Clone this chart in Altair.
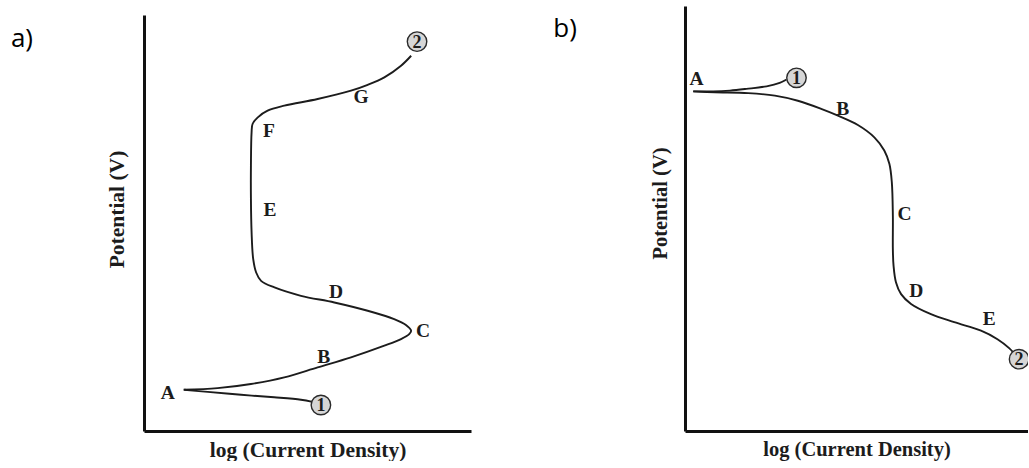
import altair as alt
import pandas as pd

# ---------------- Panel a (anodic polarization, schematic units 0-100) ----------------
a_main_x = [12.1, 22.5, 32.7, 42.9, 53.1, 63.3, 73.5, 78.6, 81.1, 81.7, 80.1, 76.5, 68.4, 58.2,
            48.0, 39.9, 35.8, 34.3, 33.4, 32.9, 32.7, 32.7, 32.9, 33.2, 34.8, 37.8, 42.9, 53.1,
            63.3, 68.4, 73.5, 78.6, 81.7]
a_main_y = [9.9, 10.3, 11.3, 12.9, 15.3, 17.7, 20.5, 22.1, 23.3, 24.1, 25.5, 26.9, 28.9, 30.9,
            32.5, 34.5, 36.1, 38.1, 41.3, 47.8, 55.8, 63.8, 71.8, 73.8, 75.4, 77.0, 78.2, 79.8,
            81.8, 83.2, 85.0, 87.8, 90.2]
a_branch_x = [12.3, 19.5, 29.7, 39.8, 48.0, 51.5]
a_branch_y = [9.9, 9.4, 8.7, 8.1, 7.5, 7.0]
a_label_text = ["A", "B", "C", "D", "E", "F", "G"]
a_label_x = [7.3, 55.0, 85.3, 58.7, 38.5, 38.2, 66.4]
a_label_y = [9.1, 17.8, 24.0, 33.4, 53.1, 72.1, 80.3]
a_node_text = ["1", "2"]
a_node_x = [54.1, 83.5]
a_node_y = [6.25, 93.6]
a_tag = ["a)"]
a_tag_x = [-40.7]
a_tag_y = [94.2]

# ---------------- Panel b (cathodic polarization) ----------------
b_main_x = [2.4, 8.7, 18.4, 26.2, 32.9, 39.7, 44.6, 50.4, 55.2, 58.1, 59.6, 60.3, 60.6, 60.6,
            60.8, 61.5, 63.0, 65.9, 71.7, 78.5, 86.3, 91.1, 94.5, 97.4]
b_main_y = [79.9, 79.7, 79.5, 78.9, 77.7, 75.8, 74.2, 72.0, 69.1, 66.0, 62.8, 58.5, 50.7, 42.8,
            38.9, 35.0, 32.2, 29.9, 27.5, 25.6, 23.6, 21.6, 19.5, 16.9]
b_branch_x = [2.4, 8.2, 13.1, 17.9, 23.8, 27.6, 29.6]
b_branch_y = [79.9, 79.9, 80.1, 80.5, 81.1, 81.9, 82.7]
b_label_text = ["A", "B", "C", "D", "E"]
b_label_x = [3.4, 46.0, 64.0, 67.4, 88.7]
b_label_y = [82.8, 75.8, 51.1, 33.0, 26.4]
b_node_text = ["1", "2"]
b_node_x = [32.5, 97.4]
b_node_y = [83.1, 16.9]
b_tag = ["b)"]
b_tag_x = [-38.4]
b_tag_y = [94.5]

X_TITLE = "log (Current Density)"
Y_TITLE = "Potential (V)"
SERIF = "Liberation Serif"
INK = "#1c1c1c"


def line_frame(mx, my, bx, by):
    rows = []
    for i, (x, y) in enumerate(zip(mx, my)):
        rows.append({"x": x, "y": y, "seg": "main", "ord": i})
    for i, (x, y) in enumerate(zip(bx, by)):
        rows.append({"x": x, "y": y, "seg": "branch", "ord": i})
    return pd.DataFrame(rows)


def panel(mx, my, bx, by, lt, lx, ly, nt, nx, ny, tag, tx, ty,
          width, height, yrange, tsize, ytitle_y, xpad, ypad, clip):
    xs = alt.X("x:Q", scale=alt.Scale(domain=[0, 100], nice=False, zero=False),
               axis=alt.Axis(title=X_TITLE, ticks=False, labels=False, grid=False,
                             domainColor="#111111", domainWidth=3,
                             titleFont=SERIF, titleFontWeight="bold", titleFontSize=tsize,
                             titleColor=INK, titlePadding=xpad))
    yscale = alt.Scale(domain=[0, 100], nice=False, zero=False, range=yrange) if yrange else \
        alt.Scale(domain=[0, 100], nice=False, zero=False)
    ys = alt.Y("y:Q", scale=yscale,
               axis=alt.Axis(title=Y_TITLE, ticks=False, labels=False, grid=False,
                             domainColor="#111111", domainWidth=3,
                             titleFont=SERIF, titleFontWeight="bold", titleFontSize=tsize,
                             titleColor=INK, titlePadding=ypad, titleY=ytitle_y))

    lines = alt.Chart(line_frame(mx, my, bx, by)).mark_line(
        interpolate="catmull-rom", strokeWidth=1.9, color=INK
    ).encode(x=xs, y=ys, detail="seg:N", order="ord:Q")

    labels = alt.Chart(pd.DataFrame({"x": lx, "y": ly, "t": lt})).mark_text(
        font=SERIF, fontWeight="bold", fontSize=19.5, color=INK, align="center", baseline="middle"
    ).encode(x=xs, y=ys, text="t:N")

    nodes_df = pd.DataFrame({"x": nx, "y": ny, "t": nt})
    nodes = alt.Chart(nodes_df).mark_circle(
        size=380, color="#d6d6d6", stroke="#2a2a2a", strokeWidth=1.4, opacity=1, clip=clip
    ).encode(x=xs, y=ys)
    node_txt = alt.Chart(nodes_df).mark_text(
        font=SERIF, fontWeight="bold", fontSize=18, color=INK, align="center",
        baseline="middle", dy=1, clip=clip
    ).encode(x=xs, y=ys, text="t:N")

    tag_c = alt.Chart(pd.DataFrame({"x": tx, "y": ty, "t": tag})).mark_text(
        font="Open Sans", fontSize=26, color="#000000", align="left", baseline="middle"
    ).encode(x=xs, y=ys, text="t:N")

    return alt.layer(lines, labels, nodes, node_txt, tag_c).properties(width=width, height=height)


pa = panel(a_main_x, a_main_y, a_branch_x, a_branch_y, a_label_text, a_label_x, a_label_y,
           a_node_text, a_node_x, a_node_y, a_tag, a_tag_x, a_tag_y,
           width=327, height=425, yrange=[425, 9], tsize=21.5, ytitle_y=203,
           xpad=8, ypad=16, clip=False)
pb = panel(b_main_x, b_main_y, b_branch_x, b_branch_y, b_label_text, b_label_x, b_label_y,
           b_node_text, b_node_x, b_node_y, b_tag, b_tag_x, b_tag_y,
           width=343, height=425, yrange=None, tsize=20.5, ytitle_y=197,
           xpad=8, ypad=15, clip=True)

chart = alt.hconcat(pa, pb, spacing=82).properties(
    padding={"left": 10, "top": 6, "right": 0, "bottom": 0},
    background="white",
).configure_view(stroke=None)

chart.save("out.html", embed_options={"renderer": "svg", "actions": False})
